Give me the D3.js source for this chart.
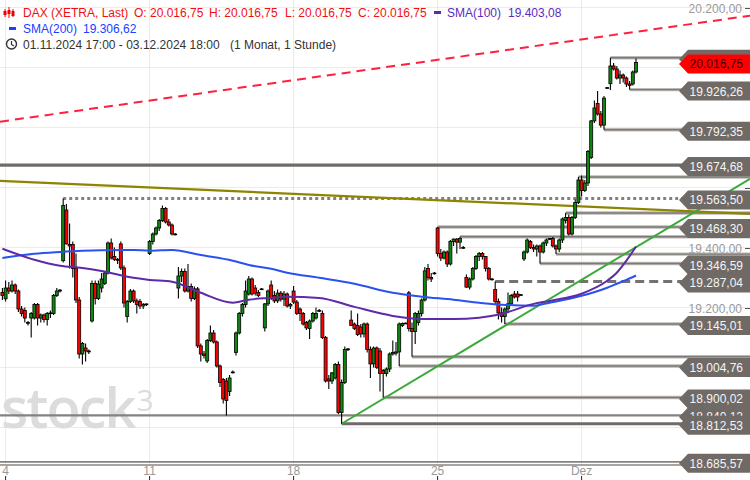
<!DOCTYPE html>
<html><head><meta charset="utf-8">
<script src="https://cdn.jsdelivr.net/npm/d3@7"></script>
<style>body{margin:0;background:#fff}svg{display:block;font-family:"Liberation Sans",Arial,sans-serif}</style>
</head><body><svg id="c" width="750" height="480"></svg>
<script>
// ---------- DATA ----------
const firstIndex = -1; // 01.11.2024 17:00 candle, then 9 hourly candles per trading day
const candles = [
[19250,19265,19225,19240],
// Nov 4
[19229,19290,19220,19265],[19265,19285,19245,19255],[19255,19290,19250,19275],[19275,19280,19245,19255],[19255,19260,19185,19195],[19195,19205,19170,19180],[19190,19200,19150,19165],[19150,19155,19140,19148],[19165,19185,19100,19180],
// Nov 5
[19165,19215,19160,19210],[19210,19215,19140,19165],[19165,19180,19150,19175],[19175,19180,19150,19160],[19160,19185,19140,19180],[19180,19190,19165,19182],[19180,19245,19175,19240],[19240,19265,19235,19255],[19255,19262,19250,19258],
// Nov 6
[19356,19563.5,19350,19540],[19525,19545,19410,19412],[19410,19480,19330,19405],[19410,19420,19300,19330],[19330,19380,19215,19225],[19225,19235,19030,19045],[19045,19085,19010,19080],[19065,19080,19020,19055],[19055,19060,19045,19052],
// Nov 7
[19155,19290,19150,19280],[19280,19290,19210,19230],[19230,19290,19225,19278],[19265,19315,19250,19295],[19280,19320,19275,19315],[19315,19420,19310,19415],[19415,19430,19360,19365],[19370,19400,19355,19360],[19360,19365,19345,19358],
// Nov 8
[19412,19420,19325,19332],[19332,19340,19200,19215],[19170,19225,19150,19220],[19220,19262,19215,19255],[19255,19260,19215,19222],[19222,19230,19180,19210],[19220,19228,19195,19205],[19205,19215,19195,19210],[19210,19213,19205,19212],
// Nov 11
[19380,19425,19375,19420],[19420,19450,19410,19445],[19445,19470,19440,19465],[19465,19495,19455,19490],[19490,19540,19485,19530],[19530,19535,19480,19485],[19485,19495,19470,19475],[19475,19480,19440,19445],[19445,19448,19440,19443],
// Nov 12
[19265,19335,19230,19305],[19305,19330,19285,19320],[19320,19330,19250,19255],[19255,19345,19250,19270],[19270,19280,19220,19230],[19230,19270,19225,19262],[19262,19268,19065,19072],[19072,19080,19020,19045],[19045,19055,19030,19040],
// Nov 13
[19022,19095,19015,19090],[19090,19140,19085,19115],[19115,19125,19080,19085],[19085,19090,19000,19005],[19005,19010,18935,18950],[18960,18965,18880,18895],[18955,18965,18840.12,18890],[18920,18975,18905,18965],[18985,18990,18980,18984],
// Nov 14
[19050,19120,19040,19115],[19115,19185,19110,19180],[19180,19215,19170,19210],[19210,19290,19200,19255],[19245,19305,19240,19295],[19295,19300,19240,19245],[19265,19275,19240,19248],[19250,19258,19235,19240],[19262,19265,19258,19262],
// Nov 15
[19132,19215,19120,19212],[19212,19260,19205,19255],[19275,19290,19225,19230],[19240,19255,19215,19222],[19222,19260,19215,19248],[19248,19255,19220,19228],[19228,19255,19205,19245],[19245,19250,19200,19205],[19205,19215,19195,19210],
// Nov 18
[19255,19272,19212,19218],[19218,19225,19175,19180],[19195,19200,19155,19180],[19180,19185,19140,19145],[19150,19155,19125,19132],[19130,19160,19095,19155],[19155,19185,19150,19180],[19165,19200,19160,19180],[19190,19195,19185,19190],
// Nov 19
[19180,19190,19095,19100],[19100,19105,18950,18955],[18962,18975,18928,18955],[18955,18985,18945,18982],[18965,19015,18960,19010],[19010,19020,18845,18850],[18850,18960,18812.53,18950],[18950,19070,18945,19060],[19062,19065,19055,19060],
// Nov 20
[19158,19190,19140,19140],[19145,19150,19125,19130],[19140,19180,19105,19110],[19135,19145,19100,19112],[19112,19150,19100,19145],[19145,19150,19050,19060],[19060,19070,18965,19012],[19012,19070,19000,19065],[19065,19070,18995,19000],
// Nov 21
[19055,19065,18920,18980],[18990,18995,18900.02,18980],[18980,19000,18970,18995],[18995,19050,18985,19045],[19045,19090,19040,19050],[19048,19085,19040,19052],[19052,19150,19004.76,19145],[19140,19150,19135,19147],[19148,19150,19145,19148],
// Nov 22
[19249,19255,19120,19130],[19130,19150,19036,19120],[19120,19185,19078,19180],[19150,19190,19140,19180],[19180,19230,19170,19225],[19225,19335,19220,19322],[19330,19345,19290,19300],[19300,19315,19285,19295],[19315,19318,19310,19315],
// Nov 25
[19465,19468.3,19370,19380],[19380,19395,19355,19365],[19365,19390,19360,19385],[19385,19390,19335,19345],[19345,19425,19340,19420],[19420,19430,19405,19428],[19428,19432,19380,19418],[19418,19436,19395,19430],[19400,19405,19395,19400],
// Nov 26
[19300,19310,19265,19268],[19268,19300,19260,19295],[19295,19335,19290,19330],[19330,19375,19325,19370],[19370,19385,19355,19380],[19380,19385,19360,19370],[19370,19372,19320,19330],[19330,19335,19290,19295],[19295,19298,19290,19295],
// Nov 27
[19260,19287.04,19210,19220],[19220,19230,19160,19182],[19182,19200,19150,19170],[19170,19200,19145.01,19195],[19195,19250,19185,19212],[19212,19245,19205,19240],[19245,19255,19230,19235],[19245,19255,19220,19235],[19242,19245,19240,19243],
// Nov 28
[19362,19390,19355,19385],[19385,19430,19380,19425],[19420,19425,19395,19400],[19400,19410,19385,19395],[19395,19410,19370,19405],[19405,19410,19346.59,19385],[19385,19420,19380,19415],[19415,19430,19405,19425],[19428,19432,19425,19430],
// Nov 29
[19430,19435,19400,19405],[19405,19410,19378,19395],[19395,19430,19385,19425],[19425,19500,19415,19495],[19490,19515,19480,19500],[19500,19510,19440,19445],[19445,19505,19440,19500],[19500,19560,19495,19550],[19550,19635,19545,19625],
// Dec 2
[19625,19640,19570,19590],[19590,19625,19585,19615],[19615,19725,19605,19720],[19700,19825,19695,19822],[19822,19890,19815,19865],[19880,19922,19840,19845],[19845,19855,19800,19808],[19808,19905,19792.35,19898],[19932,19935,19930,19933],
// Dec 3
[19946,20032.61,19925,20005],[20005,20015,19990,19995],[19995,20005,19960,19965],[19965,19990,19945,19975],[19975,19980,19950,19965],[19965,19970,19935,19945],[19945,19955,19926.26,19940],[19945,19990,19940,19985],[19985,20030,19980,20016.75]
];

const smaIdx  = [-1,9,17,24,30,40,45,52,61,71,76,83,88,98,109,121,130,140,148,155,165,170,180,188,191,194,197];
const sma100 = [19396,19359,19339,19332,19322,19299,19292,19286,19249,19216,19226,19232,19236,19232,19202,19172,19162,19162,19166,19179,19212,19222,19246,19289,19316,19356,19403.08];
const sma200 = [19365,19379,19385,19389,19391,19392,19389,19392,19375,19356,19342,19329,19316,19299,19279,19249,19236,19226,19216,19209,19206,19216,19239,19266,19279,19292,19306.62];

// trend lines: [index, value] anchors
const redTrend   = [[0,19822],[197,20119]];
const oliveTrend = [[0,19621],[197,19529]];
const greenTrend = [[105,18812.53],[197,19401]];

// horizontal levels: value, start candle index (null = left edge), style, label shown
const levelValues = [18685.57,18812.53,18840.12,18900.02,19004.76,19036,19145.01,19287.04,19346.59,19378,19436,19468.30,19515,19563.50,19635,19674.68,19792.35,19926.26,20032.61];
const levelStart  = [null,105,null,118,123,127,156,153,167,172,142,135,175,18,179,null,187,195,189];
const levelStyle  = ["double","thick","thin","line","line","line","line","dashed","line","line","line","line","line","dotted","line","thick","line","line","line"];
const levelLabel  = [true,true,true,true,true,false,true,true,true,false,false,true,false,true,false,true,true,true,true];

const lastPrice = 20016.75;
const yTicks = [18800,19000,19200,19400,19600,19800,20000,20200];
const dayTickIdx = [0,45,90,135,180];
const dayTickLabels = ["4","11","18","25","Dez"];

// ---------- DRAW ----------
const svg = d3.select("#c");
const W = 750, H = 480;
const x = d3.scaleLinear().domain([0,197]).range([5.6, 5.6+197*3.2]);
const y = d3.scaleLinear().domain([18600,20200]).range([487.5, 7.5]);
const de = d3.formatLocale({decimal:",",thousands:".",grouping:[3],currency:["","€"]});
const fmt = de.format(",.2f");
const FS = 12;

// grid
const grid = svg.append("g");
grid.selectAll("line.h").data(yTicks).join("line")
  .attr("x1",0).attr("x2",W).attr("y1",d=>y(d)).attr("y2",d=>y(d))
  .attr("stroke","#ebebeb").attr("stroke-width",1);
grid.selectAll("line.v").data(dayTickIdx).join("line")
  .attr("x1",d=>x(d)).attr("x2",d=>x(d)).attr("y1",0).attr("y2",466)
  .attr("stroke","#ebebeb").attr("stroke-width",1);

// watermark (single logo text)
const wm = svg.append("text").attr("x",1).attr("y",428).attr("fill","#dcdcdc")
  .attr("font-family","'Open Sans',sans-serif").attr("font-weight",600).attr("font-size",56).attr("letter-spacing",-2);
wm.append("tspan").text("stock");
wm.append("tspan").attr("dx",2).attr("dy",-17).attr("font-size",30).attr("font-weight",400).text("3");

// y grid labels (skip those hidden beneath level tags)
const tagVals = levelValues.filter((v,k)=>levelLabel[k]).concat([lastPrice]);
const visTicks = yTicks.filter(t=>!tagVals.some(v=>Math.abs(y(v)-y(t))<13));
const yl = svg.append("g");
yl.selectAll("text").data(visTicks).join("text")
  .attr("x",742).attr("y",d=>y(d)+5).attr("text-anchor","end")
  .attr("font-size",FS).attr("fill","#9a9a9a").text(d=>fmt(d));
yl.selectAll("line").data(yTicks).join("line")
  .attr("x1",745).attr("x2",750).attr("y1",d=>y(d)+1).attr("y2",d=>y(d)+1)
  .attr("stroke","#555").attr("stroke-width",1);

// bottom border line
svg.append("line").attr("x1",0).attr("x2",W).attr("y1",465).attr("y2",465).attr("stroke","#8a8683").attr("stroke-width",1.5);

// horizontal levels
const lv = svg.append("g");
levelValues.forEach((v,k)=>{
  const st = levelStyle[k];
  const x0 = levelStart[k]===null ? 0 : x(levelStart[k]);
  const yy = y(v);
  const ln = lv.append("line").attr("x1",x0).attr("x2",W).attr("y1",yy).attr("y2",yy);
  if (st==="thick") ln.attr("stroke","#6f6b68").attr("stroke-width",3.2);
  else if (st==="dashed") ln.attr("stroke","#75716e").attr("stroke-width",3).attr("stroke-dasharray","9,5");
  else if (st==="dotted") ln.attr("stroke","#85817e").attr("stroke-width",3).attr("stroke-dasharray","3,3");
  else if (st==="thin") ln.attr("stroke","#85817e").attr("stroke-width",2.2);
  else if (st==="double") ln.attr("stroke","#85817e").attr("stroke-width",1.6);
  else { ln.attr("stroke","#bdbab8").attr("stroke-width",3.4);
         lv.append("line").attr("x1",x0).attr("x2",W).attr("y1",yy).attr("y2",yy).attr("stroke","#7c7875").attr("stroke-width",1.4); }
});

// trend lines
const lineGen = d3.line().x(d=>d[0]).y(d=>d[1]);
function extLine(a, xStart, color, width, dash){
  const [i0,v0]=a[0],[i1,v1]=a[1];
  const s=(y(v1)-y(v0))/(x(i1)-x(i0));
  const xs = xStart===null?0:x(xStart);
  const p0=[xs, y(v0)+s*(xs-x(i0))], p1=[W, y(v0)+s*(W-x(i0))];
  const p = svg.append("path").attr("d",lineGen([p0,p1])).attr("fill","none").attr("stroke",color).attr("stroke-width",width);
  if(dash) p.attr("stroke-dasharray",dash);
}
extLine(oliveTrend,null,"#8d8400",2.2);
extLine(redTrend,null,"#ff2040",2,"9,6");
extLine(greenTrend,105,"#3aaa3a",2);

// candles
const data = candles.map((c,k)=>({i:k+firstIndex,o:c[0],h:c[1],l:c[2],c:c[3]}));
const cg = svg.append("g");
cg.selectAll("line").data(data).join("line")
  .attr("x1",d=>x(d.i)).attr("x2",d=>x(d.i)).attr("y1",d=>y(d.h)).attr("y2",d=>y(d.l))
  .attr("stroke","#000").attr("stroke-width",1.1);
cg.selectAll("rect").data(data).join("rect")
  .attr("x",d=>x(d.i)-1.5).attr("width",3)
  .attr("y",d=>y(Math.max(d.o,d.c))).attr("height",d=>Math.max(0.8,Math.abs(y(d.o)-y(d.c))))
  .attr("fill",d=>d.c>=d.o?"#0f860f":"#ff0000").attr("stroke","#000").attr("stroke-width",0.8);

// SMAs
const smaLine = d3.line().x(d=>x(d[0])).y(d=>y(d[1])).curve(d3.curveMonotoneX);
svg.append("path").attr("d",smaLine(smaIdx.map((i,k)=>[i,sma200[k]]))).attr("fill","none").attr("stroke","#2a52f0").attr("stroke-width",2);
svg.append("path").attr("d",smaLine(smaIdx.map((i,k)=>[i,sma100[k]]))).attr("fill","none").attr("stroke","#5d2aa8").attr("stroke-width",2);

// level labels
function tag(v, fill, txtColor){
  const yc = y(v)+1.5, h=19, x0=679;
  const g = svg.append("g");
  g.append("path").attr("d",`M${x0},${yc} L${x0+9},${yc-h/2} L${W},${yc-h/2} L${W},${yc+h/2} L${x0+9},${yc+h/2} Z`).attr("fill",fill);
  g.append("text").attr("x",743).attr("y",yc+4.5).attr("text-anchor","end").attr("font-size",FS).attr("fill",txtColor).text(fmt(v));
}
[18,17,16,15,13,11,8,7,6,4,3,2,1,0].forEach(k=>{ if(levelLabel[k]) tag(levelValues[k],"#6f6a66","#f4f4f4"); });
tag(lastPrice,"#ff0000","#2a0000");

// x axis
const xa = svg.append("g");
xa.selectAll("text").data(dayTickIdx).join("text")
  .attr("x",d=>x(d)).attr("y",475).attr("text-anchor","middle").attr("font-size",FS).attr("fill","#999")
  .text((d,k)=>dayTickLabels[k]);
xa.selectAll("line").data(dayTickIdx).join("line")
  .attr("x1",d=>x(d)).attr("x2",d=>x(d)).attr("y1",476).attr("y2",480).attr("stroke","#222");

// header
const hd = svg.append("g").attr("font-size",FS);
const ic = hd.append("g").attr("fill","#e00").attr("stroke","#e00");
[[5,9,17,11,15],[9,7,18,10,14],[13,9,17,11,16]].forEach(a=>{
  ic.append("line").attr("x1",a[0]).attr("x2",a[0]).attr("y1",a[1]).attr("y2",a[2]).attr("stroke-width",1);
  ic.append("rect").attr("x",a[0]-1.5).attr("y",a[3]).attr("width",3).attr("height",a[4]-a[3]).attr("stroke","none");
});
const red="#f01010";
hd.append("text").attr("x",23).attr("y",17).attr("fill",red).text("DAX (XETRA, Last)");
hd.append("text").attr("x",134).attr("y",17).attr("fill",red).text("O: "+fmt(lastPrice));
hd.append("text").attr("x",209).attr("y",17).attr("fill",red).text("H: "+fmt(lastPrice));
hd.append("text").attr("x",285).attr("y",17).attr("fill",red).text("L: "+fmt(lastPrice));
hd.append("text").attr("x",358).attr("y",17).attr("fill",red).text("C: "+fmt(lastPrice));
hd.append("rect").attr("x",434).attr("y",11).attr("width",7).attr("height",3).attr("fill","#5d2aa8");
hd.append("text").attr("x",447).attr("y",17).attr("fill","#5a2cc0").text("SMA(100)");
hd.append("text").attr("x",508).attr("y",17).attr("fill","#5a2cc0").text(fmt(sma100[sma100.length-1]));
hd.append("rect").attr("x",9).attr("y",27).attr("width",7).attr("height",3).attr("fill","#2040ff");
hd.append("text").attr("x",23).attr("y",33).attr("fill","#2040ff").text("SMA(200)");
hd.append("text").attr("x",83).attr("y",33).attr("fill","#2040ff").text(fmt(sma200[sma200.length-1]));
hd.append("circle").attr("cx",11.5).attr("cy",44).attr("r",5).attr("fill","none").attr("stroke","#333").attr("stroke-width",1.4);
hd.append("path").attr("d","M11.5,41 L11.5,44.5 L14,46").attr("fill","none").attr("stroke","#333").attr("stroke-width",1.2);
hd.append("text").attr("x",23).attr("y",49).attr("fill","#333").text("01.11.2024 17:00 - 03.12.2024 18:00");
hd.append("text").attr("x",230).attr("y",49).attr("fill","#333").text("(1 Monat, 1 Stunde)");
</script></body></html>
